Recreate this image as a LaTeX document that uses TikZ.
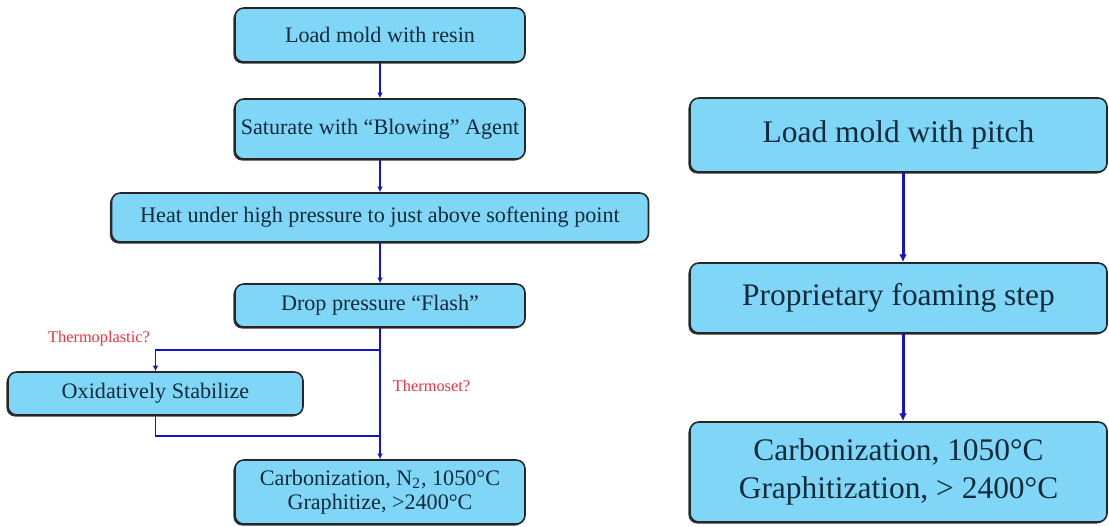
\documentclass[tikz,border=0pt]{standalone}
\usepackage{fontspec}
\setmainfont{Liberation Serif}
\usetikzlibrary{shadows}
\definecolor{boxfill}{RGB}{128,214,246}
\definecolor{boxtext}{RGB}{18,42,58}
\definecolor{linkblue}{RGB}{20,20,205}
\definecolor{asklabel}{RGB}{232,52,62}
\tikzset{
  box/.style={rectangle, rounded corners=5pt, draw=black!85, line width=0.9pt,
    fill=boxfill, text=boxtext, align=center, inner sep=0pt,
    drop shadow={shadow xshift=-0.9pt, shadow yshift=-0.9pt, fill=black!80, opacity=1},
    font=\fontsize{12.6}{13.6}\selectfont},
  bigbox/.style={box, font=\fontsize{17.9}{21.6}\selectfont},
  link/.style={draw=linkblue, line width=0.6pt, -{Latex[length=3.2pt,width=3.2pt]}},
  plainlink/.style={draw=linkblue, line width=0.6pt},
  biglink/.style={draw=linkblue, line width=1.7pt, -{Latex[length=4.5pt,width=4.5pt]}},
  ask/.style={text=asklabel, font=\fontsize{9.3}{10}\selectfont, inner sep=0pt}
}
\usetikzlibrary{arrows.meta}
\begin{document}
\begin{tikzpicture}[x=0.02cm, y=-0.02cm]
            \useasboundingbox (0,0) rectangle (1109,527);

            \node[box, minimum width=290*0.02cm, minimum height=54*0.02cm] (resin) at (380,35) {Load mold with resin};
            \node[box, minimum width=290*0.02cm, minimum height=60*0.02cm] (blow) at (380,129) {Saturate with “Blowing” Agent};
            \node[box, minimum width=537*0.02cm, minimum height=49*0.02cm] (heat) at (380,217.5) {Heat under high pressure to just above softening point};
            \node[box, minimum width=290*0.02cm, minimum height=43*0.02cm] (flash) at (380,305.5) {Drop pressure “Flash”};
            \node[box, minimum width=295*0.02cm, minimum height=43*0.02cm] (oxid) at (155.5,393.5) {Oxidatively Stabilize};
            \node[box, minimum width=290*0.02cm, minimum height=64*0.02cm] (carb) at (380,492) {Carbonization, N\textsubscript{2}, 1050°C\\Graphitize, >2400°C};

            \coordinate (split) at (380,350);
            \coordinate (merge) at (380,436);

            \draw[link] (resin) -- (blow);
            \draw[link] (blow) -- (heat);
            \draw[link] (heat) -- (flash);
            \draw[link] (flash) -- (carb);
            \draw[link] (split) -| (oxid);
            \draw[plainlink] (oxid) |- (merge);

            \node[ask] (plastic) at (99,339) {Thermoplastic?};
            \node[ask] (thermoset) at (431.5,386) {Thermoset?};

            \node[bigbox, minimum width=417*0.02cm, minimum height=74*0.02cm] (pitch) at (898.5,135) {Load mold with pitch};
            \node[bigbox, minimum width=417*0.02cm, minimum height=70*0.02cm] (foam) at (898.5,298) {Proprietary foaming step};
            \node[bigbox, minimum width=417*0.02cm, minimum height=100*0.02cm] (graph) at (898.5,472) {Carbonization, 1050°C\\Graphitization, > 2400°C};

            \draw[biglink] (pitch.south -| 903,0) -- (foam.north -| 903,0);
            \draw[biglink] (foam.south -| 903,0) -- (graph.north -| 903,0);
        \end{tikzpicture}
\end{document}
